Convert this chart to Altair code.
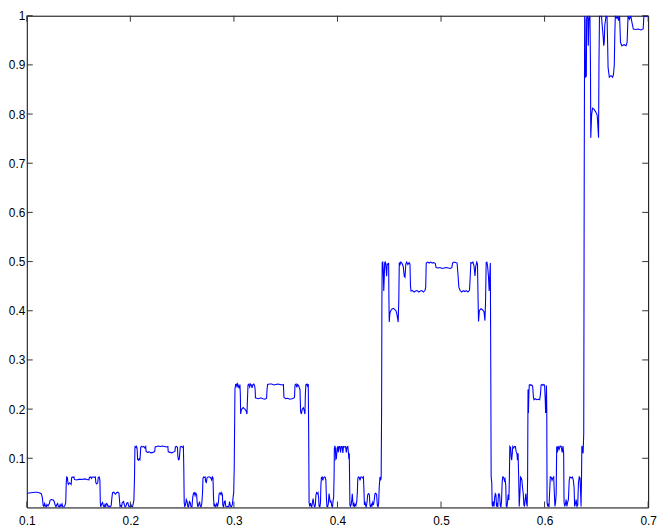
import altair as alt
import pandas as pd

# ---- curve vertices (x, y) ----
X = [
    # 0.03 level and low wiggles
    0.1000, 0.1040, 0.1080, 0.1100, 0.1120, 0.1140, 0.1150, 0.1158, 0.1165, 0.1172,
    0.1180, 0.1188, 0.1195, 0.1205, 0.1218, 0.1225, 0.1240, 0.1255, 0.1265, 0.1275,
    0.1282, 0.1290, 0.1298, 0.1305, 0.1315, 0.1322, 0.1330, 0.1340, 0.1348, 0.1358,
    0.1368, 0.1376, 0.1381, 0.1385,
    # 0.0625 block
    0.1392, 0.1397, 0.1402, 0.1412, 0.1420, 0.1428, 0.1433, 0.1438, 0.1448, 0.1455,
    0.1460, 0.1480, 0.1500, 0.1530, 0.1560, 0.1580, 0.1600, 0.1605, 0.1615, 0.1625,
    0.1632, 0.1645, 0.1655, 0.1662, 0.1667, 0.1675, 0.1685, 0.1690, 0.1700, 0.1706,
    0.1710, 0.1714,
    # low wiggles
    0.1718, 0.1725, 0.1732, 0.1740, 0.1748, 0.1755, 0.1762, 0.1770, 0.1778, 0.1786,
    0.1795, 0.1805, 0.1815, 0.1822, 0.1828, 0.1840, 0.1850, 0.1858, 0.1866, 0.1880,
    0.1890, 0.1895, 0.1900, 0.1908, 0.1915, 0.1922, 0.1935, 0.1943, 0.1950, 0.1958,
    0.1966, 0.1975, 0.1985, 0.1995, 0.2005, 0.2012, 0.2020, 0.2028, 0.2034, 0.2040,
    0.2044,
    # 0.125 block
    0.2046, 0.2055, 0.2060, 0.2066, 0.2070, 0.2078, 0.2085, 0.2092, 0.2097, 0.2100,
    0.2108, 0.2120, 0.2130, 0.2140, 0.2148, 0.2152, 0.2165, 0.2180, 0.2200, 0.2220,
    0.2235, 0.2240, 0.2255, 0.2270, 0.2290, 0.2310, 0.2330, 0.2350, 0.2362, 0.2366,
    0.2385, 0.2400, 0.2420, 0.2430, 0.2435, 0.2445, 0.2455, 0.2458, 0.2465, 0.2472,
    0.2477, 0.2482, 0.2495, 0.2505, 0.2512, 0.2516, 0.2520, 0.2525,
    # low wiggles
    0.2532, 0.2540, 0.2548, 0.2555, 0.2562, 0.2570, 0.2578, 0.2585, 0.2595, 0.2602,
    0.2610, 0.2618, 0.2625, 0.2632, 0.2640, 0.2645, 0.2652, 0.2660, 0.2668, 0.2675,
    0.2683, 0.2690, 0.2697, 0.2701, 0.2706, 0.2715, 0.2722, 0.2728, 0.2734, 0.2740,
    0.2750, 0.2765, 0.2775, 0.2785, 0.2792, 0.2798, 0.2803, 0.2808, 0.2816, 0.2825,
    0.2835, 0.2843, 0.2850, 0.2857, 0.2866, 0.2875, 0.2882, 0.2889, 0.2893, 0.2900,
    0.2908, 0.2915, 0.2922, 0.2930, 0.2940, 0.2950, 0.2958, 0.2966, 0.2975, 0.2985,
    0.2993, 0.2998, 0.3003, 0.3010, 0.3016,
    # 0.25 block
    0.3024, 0.3030, 0.3036, 0.3042, 0.3050, 0.3058, 0.3062, 0.3065, 0.3072, 0.3080,
    0.3090, 0.3100, 0.3110, 0.3120, 0.3126, 0.3130, 0.3136, 0.3145, 0.3152, 0.3160,
    0.3168, 0.3175, 0.3183, 0.3192, 0.3200, 0.3205, 0.3208, 0.3220, 0.3240, 0.3260,
    0.3280, 0.3300, 0.3315, 0.3320, 0.3325, 0.3345, 0.3365, 0.3385, 0.3405, 0.3425,
    0.3445, 0.3465, 0.3478, 0.3483, 0.3500, 0.3520, 0.3540, 0.3560, 0.3575, 0.3585,
    0.3590, 0.3600, 0.3608, 0.3615, 0.3625, 0.3632, 0.3638, 0.3644, 0.3652, 0.3660,
    0.3670, 0.3678, 0.3686, 0.3690, 0.3695, 0.3705, 0.3712, 0.3718, 0.3722, 0.3726,
    # low wiggles
    0.3732, 0.3740, 0.3746, 0.3752, 0.3758, 0.3765, 0.3772, 0.3780, 0.3786, 0.3792,
    0.3798, 0.3806, 0.3812, 0.3818, 0.3822, 0.3830, 0.3836, 0.3840, 0.3845, 0.3852,
    0.3858, 0.3865, 0.3873, 0.3882, 0.3888, 0.3893, 0.3898, 0.3905, 0.3912, 0.3918,
    0.3924, 0.3930, 0.3937, 0.3945, 0.3952, 0.3958, 0.3963, 0.3967, 0.3970, 0.3975,
    # 0.125 block
    0.3980, 0.3984, 0.3990, 0.3996, 0.4002, 0.4008, 0.4014, 0.4022, 0.4030, 0.4036,
    0.4045, 0.4052, 0.4058, 0.4068, 0.4078, 0.4085, 0.4092, 0.4100, 0.4106, 0.4110,
    0.4114, 0.4117, 0.4120,
    # low wiggles
    0.4125, 0.4132, 0.4138, 0.4143, 0.4148, 0.4153, 0.4158, 0.4165, 0.4172, 0.4178,
    0.4186, 0.4192, 0.4196, 0.4202, 0.4210, 0.4218, 0.4225, 0.4235, 0.4243, 0.4250,
    0.4255, 0.4260, 0.4266, 0.4272, 0.4278, 0.4285, 0.4292, 0.4300, 0.4308, 0.4314,
    0.4320, 0.4327, 0.4333, 0.4340, 0.4348, 0.4355, 0.4362, 0.4370, 0.4378, 0.4385,
    0.4392, 0.4398, 0.4403, 0.4410, 0.4416, 0.4422, 0.4426, 0.4429, 0.4432,
    # 0.5 block
    0.4437, 0.4442, 0.4447, 0.4452, 0.4456, 0.4462, 0.4468, 0.4475, 0.4480, 0.4488,
    0.4494, 0.4497, 0.4500, 0.4506, 0.4514, 0.4525, 0.4540, 0.4552, 0.4565, 0.4575,
    0.4586, 0.4592, 0.4597, 0.4604, 0.4612, 0.4622, 0.4635, 0.4645, 0.4652, 0.4660,
    0.4668, 0.4680, 0.4692, 0.4700, 0.4705, 0.4710, 0.4725, 0.4740, 0.4755, 0.4770,
    0.4785, 0.4800, 0.4815, 0.4830, 0.4845, 0.4852, 0.4857, 0.4870, 0.4885, 0.4900,
    0.4915, 0.4930, 0.4945, 0.4952, 0.4970, 0.4990, 0.5010, 0.5030, 0.5050, 0.5070,
    0.5090, 0.5105, 0.5111, 0.5125, 0.5140, 0.5155, 0.5165, 0.5172, 0.5185, 0.5200,
    0.5215, 0.5230, 0.5245, 0.5260, 0.5275, 0.5282, 0.5288, 0.5298, 0.5308, 0.5318,
    0.5328, 0.5335, 0.5345, 0.5352, 0.5358, 0.5362, 0.5370, 0.5385, 0.5400, 0.5415,
    0.5424, 0.5430, 0.5436, 0.5443, 0.5450, 0.5458, 0.5465, 0.5470, 0.5476, 0.5480,
    0.5484, 0.5490, 0.5494,
    # low wiggles, 0.125 and 0.25 blocks
    0.5500, 0.5505, 0.5512, 0.5518, 0.5524, 0.5530, 0.5536, 0.5542, 0.5548, 0.5554,
    0.5560, 0.5566, 0.5572, 0.5578, 0.5584, 0.5590, 0.5596, 0.5605, 0.5612, 0.5618,
    0.5625, 0.5630, 0.5636, 0.5642, 0.5648, 0.5655, 0.5660, 0.5664, 0.5672, 0.5678,
    0.5682, 0.5688, 0.5693, 0.5702, 0.5710, 0.5718, 0.5726, 0.5733, 0.5738, 0.5744,
    0.5750, 0.5755, 0.5762, 0.5768, 0.5775, 0.5781, 0.5787, 0.5794, 0.5800, 0.5806,
    0.5812, 0.5819, 0.5825, 0.5832, 0.5836, 0.5840, 0.5844, 0.5848, 0.5852, 0.5860,
    0.5868, 0.5876, 0.5885, 0.5892, 0.5898, 0.5910, 0.5925, 0.5940, 0.5952, 0.5960,
    0.5966, 0.5975, 0.5984, 0.5992, 0.6000, 0.6006, 0.6010, 0.6014, 0.6018, 0.6021,
    0.6024, 0.6030, 0.6036, 0.6042, 0.6048, 0.6055, 0.6065, 0.6072, 0.6080, 0.6088,
    0.6094, 0.6100, 0.6106, 0.6112, 0.6117, 0.6124, 0.6130, 0.6140, 0.6150, 0.6160,
    0.6170, 0.6178, 0.6184, 0.6188, 0.6195, 0.6202, 0.6208, 0.6215, 0.6222, 0.6230,
    0.6238, 0.6245, 0.6258, 0.6268, 0.6278, 0.6285, 0.6290, 0.6298, 0.6305, 0.6312,
    0.6320, 0.6327, 0.6335, 0.6342, 0.6348, 0.6352, 0.6356, 0.6360, 0.6366, 0.6372,
    0.6378, 0.6383,
    # top block
    0.6387, 0.6391, 0.6394, 0.6400, 0.6403, 0.6406, 0.6412, 0.6418, 0.6422, 0.6427,
    0.6432, 0.6438, 0.6443, 0.6446, 0.6454, 0.6463, 0.6476, 0.6492, 0.6508, 0.6516,
    0.6521, 0.6525, 0.6530, 0.6540, 0.6549, 0.6559, 0.6565, 0.6571, 0.6576, 0.6581,
    0.6594, 0.6603, 0.6608, 0.6613, 0.6625, 0.6641, 0.6657, 0.6665, 0.6673, 0.6678,
    0.6683, 0.6698, 0.6706, 0.6714, 0.6724, 0.6733, 0.6746, 0.6768, 0.6787, 0.6797,
    0.6806, 0.6819, 0.6832, 0.6844, 0.6857, 0.6880, 0.6905, 0.6930, 0.6952, 0.6959,
    0.6980, 0.7000,
]

Y = [
    0.029, 0.030, 0.031, 0.031, 0.030, 0.028, 0.020, 0.004, 0.002, 0.008,
    0.003, 0.001, 0.006, 0.003, 0.008, 0.015, 0.016, 0.015, 0.012, 0.004,
    0.001, 0.006, 0.008, 0.002, 0.001, 0.006, 0.002, 0.007, 0.001, 0.001,
    0.004, 0.010, 0.050, 0.062,
    0.061, 0.050, 0.047, 0.050, 0.049, 0.047, 0.060, 0.062, 0.061, 0.062,
    0.057, 0.056, 0.057, 0.057, 0.058, 0.057, 0.056, 0.061, 0.062, 0.059,
    0.062, 0.062, 0.061, 0.062, 0.050, 0.048, 0.050, 0.061, 0.062, 0.055,
    0.010, 0.001,
    0.004, 0.008, 0.010, 0.003, 0.001, 0.006, 0.002, 0.008, 0.007, 0.001,
    0.003, 0.001, 0.004, 0.020, 0.030, 0.031, 0.028, 0.027, 0.030, 0.031,
    0.029, 0.015, 0.002, 0.004, 0.001, 0.010, 0.012, 0.004, 0.001, 0.003,
    0.009, 0.010, 0.002, 0.001, 0.006, 0.002, 0.001, 0.008, 0.015, 0.060,
    0.120,
    0.124, 0.122, 0.124, 0.118, 0.098, 0.096, 0.099, 0.097, 0.110, 0.122,
    0.124, 0.123, 0.124, 0.121, 0.124, 0.114, 0.112, 0.113, 0.111, 0.112,
    0.114, 0.123, 0.124, 0.125, 0.124, 0.125, 0.124, 0.123, 0.124, 0.113,
    0.112, 0.111, 0.113, 0.114, 0.123, 0.124, 0.122, 0.105, 0.097, 0.098,
    0.110, 0.123, 0.124, 0.122, 0.124, 0.080, 0.010, 0.002,
    0.005, 0.016, 0.012, 0.002, 0.001, 0.012, 0.010, 0.002, 0.001, 0.020,
    0.029, 0.030, 0.024, 0.029, 0.026, 0.010, 0.001, 0.006, 0.012, 0.003,
    0.001, 0.008, 0.030, 0.058, 0.062, 0.061, 0.062, 0.052, 0.051, 0.060,
    0.062, 0.062, 0.061, 0.056, 0.062, 0.060, 0.020, 0.002, 0.006, 0.001,
    0.008, 0.003, 0.010, 0.028, 0.030, 0.026, 0.030, 0.025, 0.004, 0.001,
    0.012, 0.013, 0.002, 0.001, 0.002, 0.001, 0.012, 0.003, 0.001, 0.006,
    0.022, 0.030, 0.080, 0.240, 0.250,
    0.251, 0.244, 0.251, 0.248, 0.242, 0.250, 0.230, 0.190, 0.198, 0.201,
    0.203, 0.201, 0.199, 0.195, 0.190, 0.215, 0.249, 0.251, 0.245, 0.251,
    0.249, 0.243, 0.250, 0.251, 0.247, 0.240, 0.223, 0.222, 0.221, 0.223,
    0.221, 0.220, 0.222, 0.240, 0.250, 0.251, 0.251, 0.249, 0.250, 0.251,
    0.250, 0.249, 0.250, 0.224, 0.221, 0.222, 0.220, 0.221, 0.222, 0.224,
    0.249, 0.251, 0.244, 0.250, 0.248, 0.243, 0.240, 0.195, 0.190, 0.200,
    0.203, 0.198, 0.190, 0.230, 0.250, 0.251, 0.245, 0.251, 0.150, 0.010,
    0.002, 0.009, 0.003, 0.001, 0.010, 0.018, 0.006, 0.001, 0.004, 0.025,
    0.030, 0.028, 0.030, 0.020, 0.003, 0.001, 0.010, 0.045, 0.061, 0.062,
    0.055, 0.060, 0.062, 0.061, 0.055, 0.020, 0.002, 0.001, 0.008, 0.028,
    0.020, 0.010, 0.014, 0.003, 0.001, 0.015, 0.020, 0.060, 0.120, 0.125,
    0.120, 0.098, 0.100, 0.120, 0.124, 0.112, 0.124, 0.124, 0.112, 0.124,
    0.124, 0.111, 0.124, 0.123, 0.124, 0.112, 0.123, 0.124, 0.110, 0.098,
    0.110, 0.060, 0.005,
    0.002, 0.006, 0.015, 0.028, 0.012, 0.002, 0.010, 0.001, 0.006, 0.004,
    0.012, 0.030, 0.058, 0.062, 0.061, 0.055, 0.062, 0.062, 0.060, 0.062,
    0.040, 0.005, 0.012, 0.004, 0.001, 0.010, 0.026, 0.028, 0.026, 0.004,
    0.001, 0.006, 0.002, 0.010, 0.005, 0.015, 0.028, 0.029, 0.026, 0.004,
    0.001, 0.010, 0.040, 0.062, 0.055, 0.060, 0.200, 0.420, 0.498,
    0.499, 0.484, 0.440, 0.470, 0.498, 0.499, 0.490, 0.470, 0.495, 0.494,
    0.497, 0.420, 0.377, 0.395, 0.400, 0.403, 0.405, 0.403, 0.400, 0.392,
    0.377, 0.420, 0.498, 0.494, 0.499, 0.497, 0.490, 0.470, 0.468, 0.495,
    0.499, 0.494, 0.498, 0.495, 0.450, 0.440, 0.441, 0.438, 0.440, 0.441,
    0.438, 0.440, 0.441, 0.438, 0.441, 0.448, 0.497, 0.499, 0.497, 0.499,
    0.497, 0.498, 0.496, 0.488, 0.487, 0.488, 0.486, 0.487, 0.488, 0.487,
    0.486, 0.488, 0.497, 0.499, 0.498, 0.497, 0.470, 0.448, 0.441, 0.438,
    0.441, 0.439, 0.441, 0.438, 0.442, 0.470, 0.498, 0.497, 0.499, 0.492,
    0.471, 0.490, 0.499, 0.495, 0.420, 0.378, 0.400, 0.404, 0.402, 0.398,
    0.380, 0.420, 0.498, 0.499, 0.490, 0.470, 0.440, 0.470, 0.497, 0.300,
    0.062, 0.050, 0.005,
    0.002, 0.012, 0.002, 0.020, 0.028, 0.026, 0.002, 0.006, 0.001, 0.027,
    0.028, 0.024, 0.004, 0.001, 0.012, 0.050, 0.062, 0.061, 0.055, 0.058,
    0.045, 0.003, 0.001, 0.010, 0.026, 0.015, 0.060, 0.124, 0.122, 0.100,
    0.096, 0.110, 0.124, 0.121, 0.124, 0.124, 0.113, 0.110, 0.096, 0.110,
    0.060, 0.002, 0.030, 0.062, 0.060, 0.055, 0.040, 0.028, 0.005, 0.002,
    0.015, 0.028, 0.010, 0.002, 0.060, 0.240, 0.192, 0.230, 0.249, 0.250,
    0.248, 0.249, 0.246, 0.225, 0.219, 0.221, 0.219, 0.220, 0.219, 0.230,
    0.249, 0.250, 0.248, 0.250, 0.249, 0.220, 0.192, 0.202, 0.248, 0.200,
    0.010, 0.002, 0.008, 0.001, 0.028, 0.062, 0.061, 0.055, 0.060, 0.062,
    0.030, 0.002, 0.010, 0.028, 0.124, 0.112, 0.125, 0.118, 0.125, 0.124,
    0.112, 0.125, 0.110, 0.010, 0.002, 0.008, 0.016, 0.002, 0.010, 0.016,
    0.055, 0.062, 0.060, 0.062, 0.055, 0.040, 0.002, 0.008, 0.016, 0.002,
    0.005, 0.050, 0.062, 0.060, 0.030, 0.002, 0.050, 0.125, 0.120, 0.110,
    0.150, 0.700,
    1.000, 0.990, 0.875, 0.876, 0.878, 0.995, 1.000, 0.995, 0.939, 0.990,
    1.000, 0.998, 0.900, 0.752, 0.798, 0.812, 0.810, 0.805, 0.798, 0.770,
    0.752, 0.900, 1.000, 0.999, 1.000, 0.973, 0.960, 0.939, 0.945, 0.980,
    1.000, 0.998, 0.950, 0.895, 0.875, 0.878, 0.875, 0.880, 0.900, 0.960,
    1.000, 0.995, 1.000, 0.990, 1.000, 0.946, 0.939, 0.941, 0.939, 0.946,
    1.000, 0.993, 1.000, 0.986, 0.973, 0.972, 0.973, 0.971, 0.973, 1.000,
    0.998, 1.000,
]

X_TICKS = [0.1, 0.2, 0.3, 0.4, 0.5, 0.6, 0.7]
Y_TICKS = [0.1, 0.2, 0.3, 0.4, 0.5, 0.6, 0.7, 0.8, 0.9, 1.0]

W, H = 628, 497
TICK_LEN = 6
FONT = "Liberation Sans"

n = min(len(X), len(Y))
df = pd.DataFrame({"x": X[:n], "y": Y[:n], "i": list(range(n))})
xt = pd.DataFrame({"x": X_TICKS})
yt = pd.DataFrame({"y": Y_TICKS})

xs = alt.Scale(domain=[0.1, 0.7], nice=False, zero=False)
ys = alt.Scale(domain=[0.0, 1.0], nice=False, zero=False)

x_axis = alt.Axis(values=X_TICKS, format="~g", ticks=False, domain=False, grid=False,
                  labelPadding=8, labelFlush=False, labelOverlap=False, title=None)
y_axis = alt.Axis(values=Y_TICKS, format="~g", ticks=False, domain=False, grid=False,
                  labelPadding=2, labelOverlap=False, title=None)

X_ENC = alt.X("x:Q", scale=xs, axis=x_axis, title=None)
Y_ENC = alt.Y("y:Q", scale=ys, axis=y_axis, title=None)

line = alt.Chart(df).mark_line(color="#0000ff", strokeWidth=1.1, clip=True).encode(
    x=X_ENC, y=Y_ENC, order="i:Q",
)

tick_style = dict(color="#333333", strokeWidth=1)
xb = alt.Chart(xt).mark_rule(**tick_style).encode(
    x=X_ENC, y=alt.value(H), y2=alt.value(H - TICK_LEN))
xtop = alt.Chart(xt).mark_rule(**tick_style).encode(
    x=X_ENC, y=alt.value(0), y2=alt.value(TICK_LEN))
yl = alt.Chart(yt).mark_rule(**tick_style).encode(
    y=Y_ENC, x=alt.value(0), x2=alt.value(TICK_LEN))
yr = alt.Chart(yt).mark_rule(**tick_style).encode(
    y=Y_ENC, x=alt.value(W), x2=alt.value(W - TICK_LEN))

chart = alt.layer(line, xb, xtop, yl, yr).properties(
    width=W, height=H,
    padding={"left": 19, "top": 5, "right": 14, "bottom": 20},
    autosize=alt.AutoSizeParams(type="none"),
    background="white",
).configure_view(
    stroke="black", strokeWidth=1
).configure_axis(
    labelFont=FONT, labelFontSize=12, labelColor="black"
)

chart.save("out.html", embed_options={"renderer": "svg", "actions": False})
